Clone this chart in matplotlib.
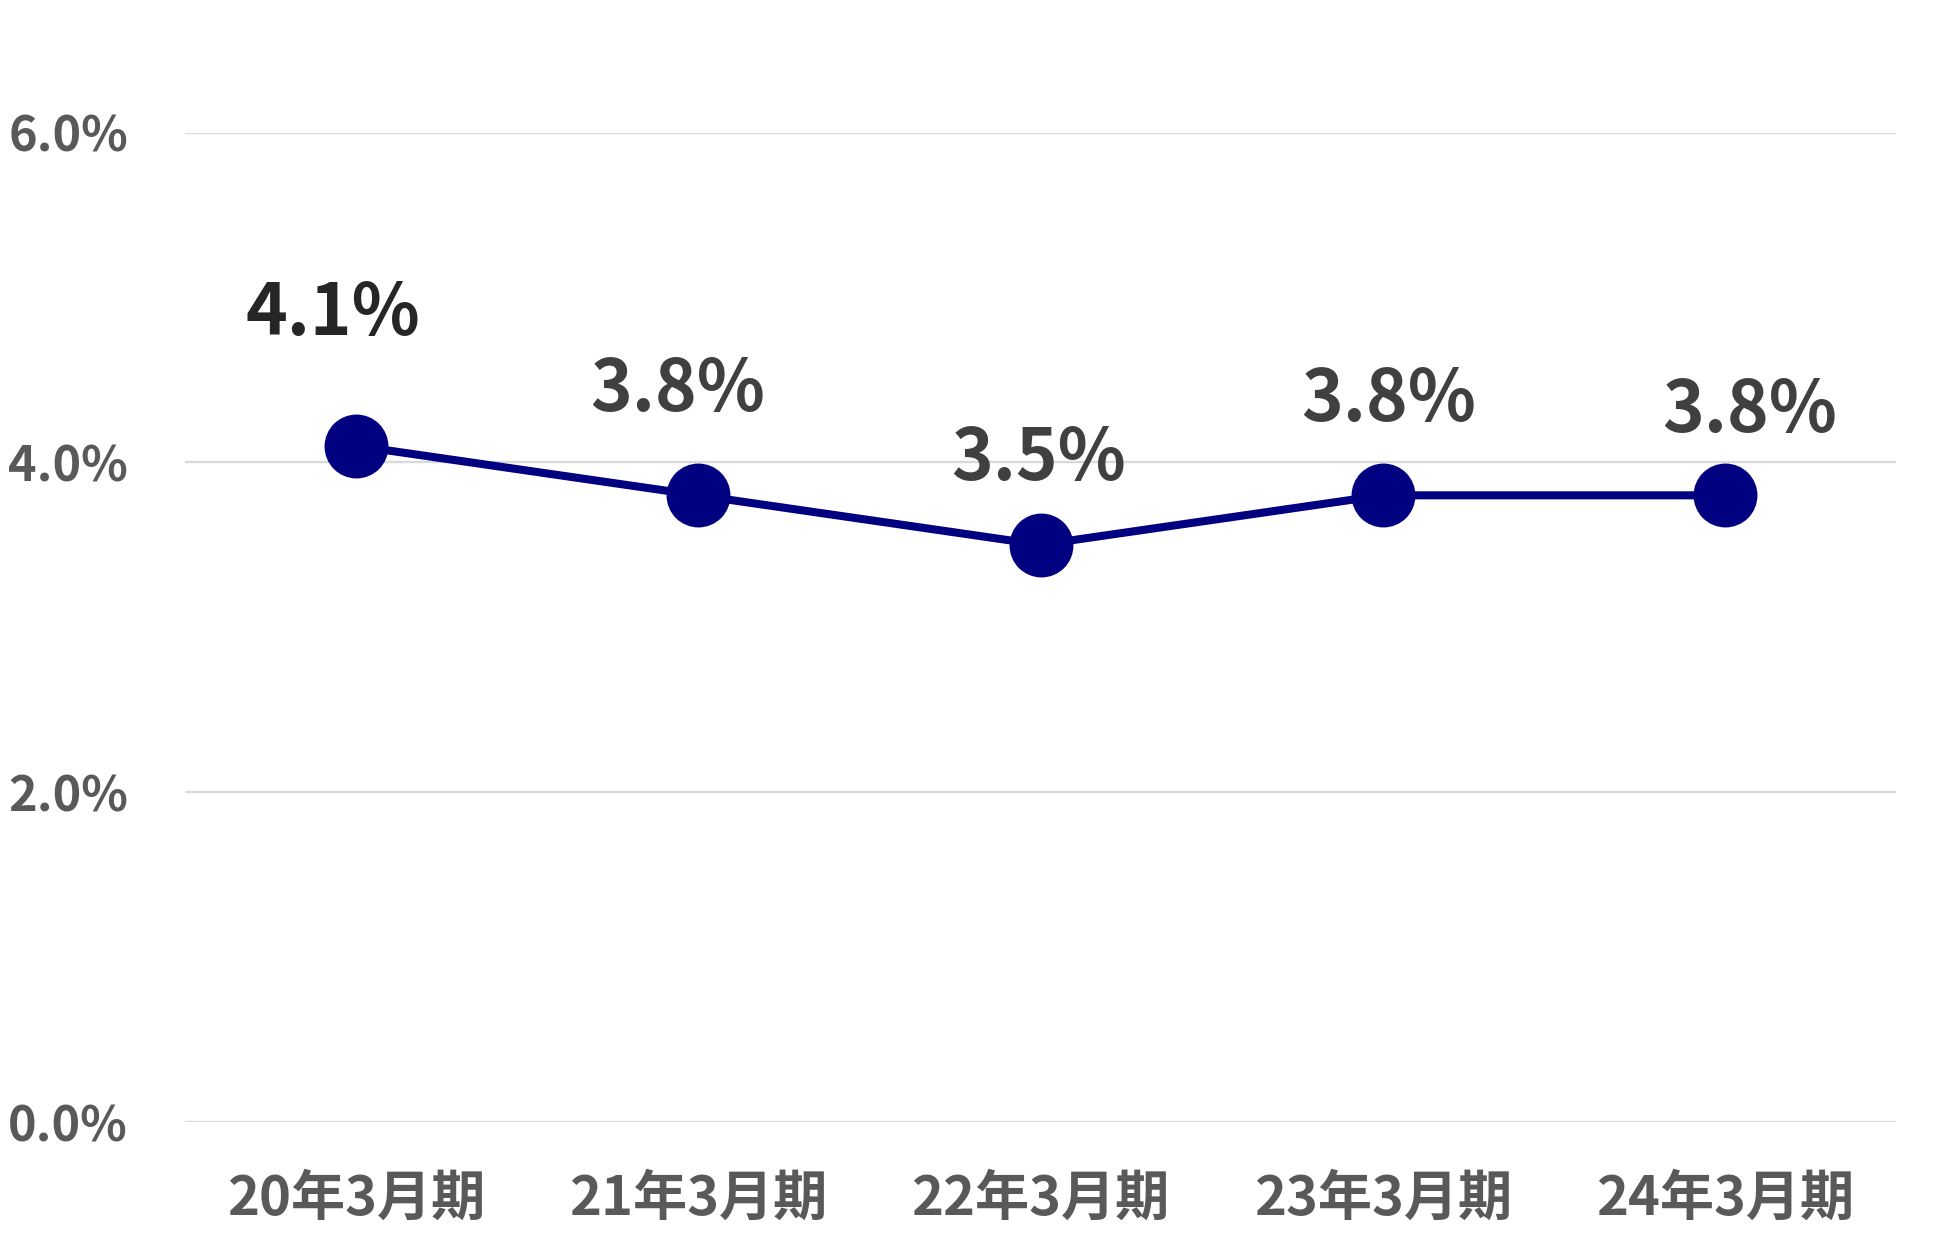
import matplotlib
matplotlib.use("Agg")
from matplotlib import pyplot as plt
from matplotlib.ticker import FuncFormatter

plt.rcParams['font.family'] = ['Noto Sans CJK JP', 'DejaVu Sans']

# data
periods = ['20年3月期', '21年3月期', '22年3月期', '23年3月期', '24年3月期']
ratio = [4.1, 3.8, 3.5, 3.8, 3.8]
value_labels = ['4.1%', '3.8%', '3.5%', '3.8%', '3.8%']

# label nudges (pixels) as placed in the original chart
label_dx = [-23, -21, -2, 6, 25]
label_dy = [111, 84, 65, 74, 63]
label_colors = ['#262626', '#404040', '#404040', '#404040', '#404040']

fig = plt.figure(figsize=(19.5, 12.56), dpi=100)
ax = fig.add_axes([185 / 1950, 1 - 1122 / 1256, (1896 - 185) / 1950, (1122 - 132.5) / 1256])

x = list(range(len(periods)))
ax.plot(x, ratio, color='#000080', linewidth=5.8, marker='o', markersize=45,
        markerfacecolor='#000080', markeredgecolor='#000080', zorder=3, clip_on=False)

for i, v in enumerate(ratio):
    ax.annotate(value_labels[i], (x[i], v), xytext=(label_dx[i], label_dy[i]),
                textcoords='offset pixels', ha='center', va='baseline',
                fontsize=51, fontweight='bold', color=label_colors[i])

ax.set_xlim(-0.5, len(periods) - 0.5)
ax.set_ylim(0, 6)
ax.set_yticks([0, 2, 4, 6])
ax.yaxis.set_major_formatter(FuncFormatter(lambda v, p: '%.1f%%' % v))
ax.set_xticks(x)
ax.set_xticklabels(periods)

ax.grid(axis='y', color='#d9d9d9', linewidth=1.7)
ax.set_axisbelow(True)
for s in ax.spines.values():
    s.set_visible(False)
ax.tick_params(axis='both', length=0, labelcolor='#595959')
ax.tick_params(axis='y', pad=41, labelsize=35)
ax.tick_params(axis='x', pad=36, labelsize=39)
for t in ax.get_xticklabels() + ax.get_yticklabels():
    t.set_fontweight('bold')

fig.savefig('out.png', dpi=100, facecolor='white')
